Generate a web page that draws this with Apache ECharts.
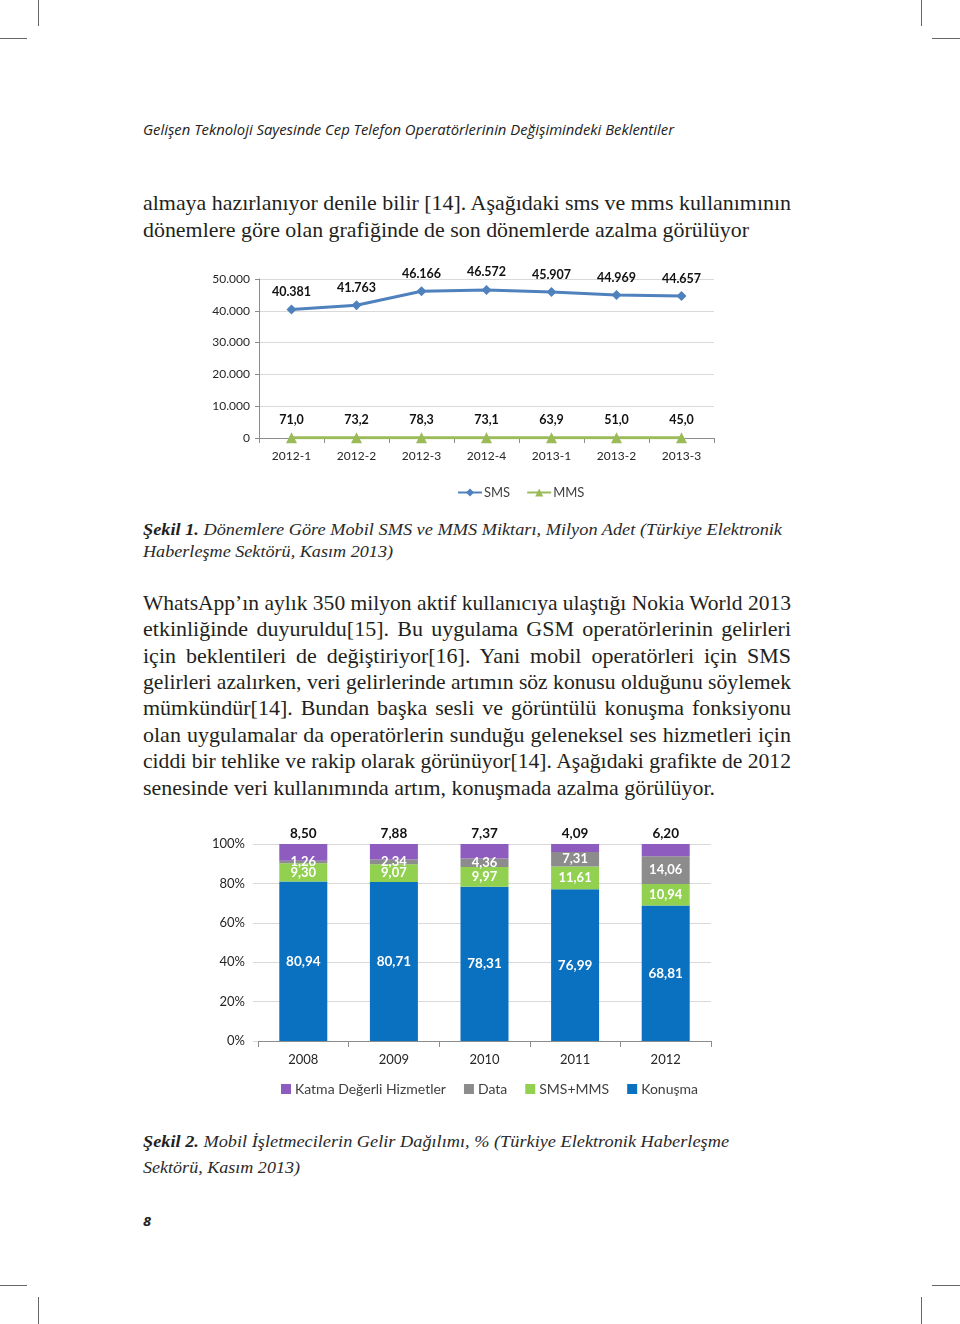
<!DOCTYPE html>
<html>
<head>
<meta charset="utf-8">
<script src="https://cdn.jsdelivr.net/npm/echarts@6/dist/echarts.min.js"></script>
<style>
  html, body { margin:0; padding:0; background:#fff; }
  body { width:960px; height:1324px; position:relative; overflow:hidden; }
  .mark { position:absolute; background:#666; }
  .ln { position:absolute; left:143px; white-space:pre; display:inline-block; transform-origin:0 50%; color:#231f20; }
  .body { font-family:"Liberation Serif","Times New Roman",serif; font-size:22px; line-height:26px; }
  .cap { font-family:"Liberation Serif","Times New Roman",serif; font-style:italic; font-size:17.5px; line-height:22px; color:#2a2a2a; }
  .cap b { font-style:italic; font-weight:bold; color:#231f20; }
  .hdr { font-family:"Open Sans",sans-serif; font-style:italic; font-size:14px; line-height:20px; color:#222; }
  .pg { font-family:"Open Sans",sans-serif; font-style:italic; font-weight:bold; font-size:13px; line-height:18px; }
  #c1 { position:absolute; left:190px; top:250px; width:550px; height:260px; }
  #c2 { position:absolute; left:190px; top:815px; width:550px; height:290px; }
</style>
</head>
<body>
<!-- crop marks -->
<div class="mark" style="left:38px;top:0;width:1px;height:26px"></div>
<div class="mark" style="left:0;top:38px;width:27px;height:1px"></div>
<div class="mark" style="left:921px;top:0;width:1px;height:26px"></div>
<div class="mark" style="left:932px;top:38px;width:28px;height:1px"></div>
<div class="mark" style="left:0;top:1285px;width:27px;height:1px"></div>
<div class="mark" style="left:932px;top:1285px;width:28px;height:1px"></div>
<div class="mark" style="left:38px;top:1297px;width:1px;height:27px"></div>
<div class="mark" style="left:921px;top:1297px;width:1px;height:27px"></div>

<span class="ln hdr" data-y="130" data-w="531">Gelişen Teknoloji Sayesinde Cep Telefon Operatörlerinin Değişimindeki Beklentiler</span>

<span class="ln body" data-y="203" data-w="648" data-j="1">almaya hazırlanıyor denile bilir [14]. Aşağıdaki sms ve mms kullanımının</span>
<span class="ln body" data-y="230" data-w="606">dönemlere göre olan grafiğinde de son dönemlerde azalma görülüyor</span>

<div id="c1"></div>

<span class="ln cap" data-y="529" data-w="639"><b>Şekil 1.</b> Dönemlere Göre Mobil SMS ve MMS Miktarı, Milyon Adet (Türkiye Elektronik</span>
<span class="ln cap" data-y="551" data-w="250">Haberleşme Sektörü, Kasım 2013)</span>

<span class="ln body" data-y="603" data-w="648" data-j="1">WhatsApp’ın aylık 350 milyon aktif kullanıcıya ulaştığı Nokia World 2013</span>
<span class="ln body" data-y="629" data-w="648" data-j="1">etkinliğinde duyuruldu[15]. Bu uygulama GSM operatörlerinin gelirleri</span>
<span class="ln body" data-y="656" data-w="648" data-j="1">için beklentileri de değiştiriyor[16]. Yani mobil operatörleri için SMS</span>
<span class="ln body" data-y="682" data-w="648" data-j="1">gelirleri azalırken, veri gelirlerinde artımın söz konusu olduğunu söylemek</span>
<span class="ln body" data-y="708" data-w="648" data-j="1">mümkündür[14]. Bundan başka sesli ve görüntülü konuşma fonksiyonu</span>
<span class="ln body" data-y="735" data-w="648" data-j="1">olan uygulamalar da operatörlerin sunduğu geleneksel ses hizmetleri için</span>
<span class="ln body" data-y="761" data-w="648" data-j="1">ciddi bir tehlike ve rakip olarak görünüyor[14]. Aşağıdaki grafikte de 2012</span>
<span class="ln body" data-y="788" data-w="572">senesinde veri kullanımında artım, konuşmada azalma görülüyor.</span>

<div id="c2"></div>

<span class="ln cap" data-y="1141" data-w="586"><b>Şekil 2.</b> Mobil İşletmecilerin Gelir Dağılımı, % (Türkiye Elektronik Haberleşme</span>
<span class="ln cap" data-y="1167" data-w="157">Sektörü, Kasım 2013)</span>

<span class="ln pg" data-y="1221" data-w="8">8</span>

<script>
// ---------- Chart 1 data ----------
const periods = ['2012-1', '2012-2', '2012-3', '2012-4', '2013-1', '2013-2', '2013-3'];
const smsValues = [40381, 41763, 46166, 46572, 45907, 44969, 44657];
const mmsValues = [71.0, 73.2, 78.3, 73.1, 63.9, 51.0, 45.0];
const chart1YMin = 0;
const chart1YMax = 50000;
const chart1YStep = 10000;

// ---------- Chart 2 data ----------
const years = ['2008', '2009', '2010', '2011', '2012'];
const konusmaValues = [80.94, 80.71, 78.31, 76.99, 68.81];
const smsMmsValues = [9.30, 9.07, 9.97, 11.61, 10.94];
const dataValues = [1.26, 2.34, 4.36, 7.31, 14.06];
const katmaValues = [8.50, 7.88, 7.37, 4.09, 6.20];
const chart2YMin = 0;
const chart2YMax = 100;
const chart2YStep = 20;

// ---------- text line fitting ----------
document.querySelectorAll('.ln').forEach(el => {
  const y = +el.dataset.y;
  const lh = parseFloat(getComputedStyle(el).lineHeight);
  el.style.top = (y - lh / 2) + 'px';
  const target = +el.dataset.w;
  const nat = el.getBoundingClientRect().width;
  if (!target || !nat) return;
  if (el.dataset.j && nat < target) {
    const n = (el.textContent.match(/ /g) || []).length;
    if (n) el.style.wordSpacing = ((target - nat) / n) + 'px';
  } else {
    el.style.transform = 'scaleX(' + (target / nat) + ')';
  }
});

const FONT = 'Lato, "Open Sans", sans-serif';
const thousands = v => v === 0 ? '0' : (v / 1000).toFixed(3);
const comma = (v, d) => v.toFixed(d).replace('.', ',');

// ---------- Chart 1 ----------
const c1 = echarts.init(document.getElementById('c1'), null, { renderer: 'canvas' });
c1.setOption({
  animation: false,
  textStyle: { fontFamily: FONT },
  grid: { left: 69, right: 26, top: 29, bottom: 72 },
  legend: {
    left: 262, top: 231, itemWidth: 24, itemHeight: 10, itemGap: 16,
    textStyle: { fontFamily: FONT, fontSize: 13, color: '#404040', padding: [0, 0, 0, -3] },
    data: ['SMS', 'MMS']
  },
  xAxis: {
    type: 'category', data: periods, boundaryGap: true,
    axisLine: { lineStyle: { color: '#8c8c8c', width: 1 } },
    axisTick: { show: true, length: 5, lineStyle: { color: '#8c8c8c' } },
    axisLabel: { margin: 12, fontSize: 12, color: '#262626', fontFamily: FONT }
  },
  yAxis: {
    type: 'value', min: chart1YMin, max: chart1YMax, interval: chart1YStep,
    axisLine: { show: true, lineStyle: { color: '#8c8c8c', width: 1 } },
    axisTick: { show: true, length: 4, lineStyle: { color: '#8c8c8c' } },
    splitLine: { lineStyle: { color: '#d9d9d9' } },
    axisLabel: { margin: 9, fontSize: 12, color: '#262626', fontFamily: FONT, formatter: thousands }
  },
  series: [
    {
      name: 'SMS', type: 'line', data: smsValues,
      symbol: 'diamond', symbolSize: 10,
      lineStyle: { color: '#4f81bd', width: 3 },
      itemStyle: { color: '#4f81bd' },
      label: { show: true, position: 'top', distance: 6, fontSize: 12.5, fontWeight: 'bold', color: '#111', fontFamily: FONT, formatter: p => thousands(p.value) }
    },
    {
      name: 'MMS', type: 'line', data: mmsValues,
      symbol: 'triangle', symbolSize: 11,
      lineStyle: { color: '#9bbb59', width: 3 },
      itemStyle: { color: '#9bbb59' },
      label: { show: true, position: 'top', distance: 6, fontSize: 12.5, fontWeight: 'bold', color: '#111', fontFamily: FONT, formatter: p => comma(p.value, 1) }
    }
  ]
});

// ---------- Chart 2 ----------
const c2 = echarts.init(document.getElementById('c2'), null, { renderer: 'canvas' });
const inLabel = (size) => ({ show: true, position: 'inside', fontSize: size, fontWeight: 'bold', color: '#ffffff', fontFamily: FONT, formatter: p => comma(p.value, 2) });
c2.setOption({
  animation: false,
  textStyle: { fontFamily: FONT },
  grid: { left: 68, right: 29, top: 29, bottom: 64 },
  legend: {
    left: 86, top: 262, itemWidth: 10, itemHeight: 10, itemGap: 18,
    icon: 'rect',
    textStyle: { fontFamily: FONT, fontSize: 14, color: '#404040', padding: [0, 0, 0, -1] },
    data: ['Katma Değerli Hizmetler', 'Data', 'SMS+MMS', 'Konuşma']
  },
  xAxis: {
    type: 'category', data: years, boundaryGap: true,
    axisLine: { lineStyle: { color: '#8c8c8c', width: 1 } },
    axisTick: { show: true, length: 6, lineStyle: { color: '#8c8c8c' } },
    axisLabel: { margin: 12, fontSize: 13, color: '#262626', fontFamily: FONT }
  },
  yAxis: {
    type: 'value', min: chart2YMin, max: chart2YMax, interval: chart2YStep,
    axisLine: { show: false },
    axisTick: { show: true, length: 5, lineStyle: { color: '#d9d9d9' } },
    splitLine: { lineStyle: { color: '#d9d9d9' } },
    axisLabel: { margin: 13, fontSize: 13, color: '#262626', fontFamily: FONT, formatter: v => v + '%' }
  },
  series: [
    { name: 'Konuşma', type: 'bar', stack: 's', barWidth: 48, data: konusmaValues,
      itemStyle: { color: '#0a70c0' }, label: inLabel(13.5) },
    { name: 'SMS+MMS', type: 'bar', stack: 's', barWidth: 48, data: smsMmsValues,
      itemStyle: { color: '#92d050' }, label: inLabel(13) },
    { name: 'Data', type: 'bar', stack: 's', barWidth: 48, data: dataValues,
      itemStyle: { color: '#8c8c8c' }, label: inLabel(13) },
    { name: 'Katma Değerli Hizmetler', type: 'bar', stack: 's', barWidth: 48, data: katmaValues,
      itemStyle: { color: '#8e5cbf' },
      label: { show: true, position: 'top', distance: 3, fontSize: 13.5, fontWeight: 'bold', color: '#111', fontFamily: FONT, formatter: p => comma(p.value, 2) } }
  ]
});
</script>
</body>
</html>
